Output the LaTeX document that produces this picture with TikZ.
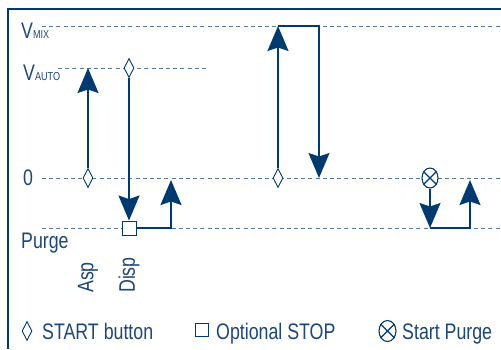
\documentclass[tikz,border=0pt]{standalone}
\usepackage{fontspec}
\setmainfont[FakeStretch=0.79]{Liberation Sans}
\usepackage{tikz}
\usetikzlibrary{arrows.meta,positioning,shapes.geometric}
\definecolor{navy}{HTML}{003A6E}
\definecolor{ink}{HTML}{1E4775}
\definecolor{levelblue}{HTML}{56789E}
\newcommand{\lbsize}{\fontsize{22.5}{25}\selectfont}
\newcommand{\subsize}{\fontsize{11.5}{12}\selectfont}
\tikzset{
  flow/.style={draw=navy,line width=1.7pt,-{Stealth[length=25pt,width=21pt,inset=3.5pt]}},
  level/.style={draw=levelblue,line width=1pt,dash pattern=on 4pt off 3.2pt},
  startmark/.style={diamond,draw=navy,fill=white,line width=0.9pt,inner sep=0pt,minimum width=10pt,minimum height=19pt},
  stopmark/.style={rectangle,draw=navy,fill=white,line width=0.9pt,inner sep=0pt,minimum width=14pt,minimum height=14pt},
  purgemark/.style={ellipse,draw=navy,fill=white,line width=1.1pt,inner sep=0pt,minimum width=16pt,minimum height=20pt},
  lbl/.style={text=ink,inner sep=0pt,font=\lbsize}
}
\begin{document}
\begin{tikzpicture}[x=1pt,y=-1pt]
  \useasboundingbox (0,0) rectangle (501,349);
  \draw[navy,line width=1.5pt] (8,349) -- (8,9) -- (501,9);

  \node[lbl,anchor=base west] (vmix) at (21,38) {V{\subsize MIX}};
  \node[lbl,anchor=base west] (vauto) at (23,80) {V{\subsize AUTO}};
  \node[lbl,anchor=base west] (zero) at (23,185) {0};
  \node[lbl,anchor=base west] (purge) at (21,248) {Purge};
  \node[lbl,rotate=90,anchor=west] (asp) at (88,293) {Asp};
  \node[lbl,rotate=90,anchor=west] (disp) at (129,293) {Disp};

  \draw[level] (42,26) -- (501,26);
  \draw[level] (58,68) -- (208,68);
  \draw[level] (42,178) -- (501,178);
  \draw[level] (42,228) -- (501,228);

  \coordinate (aspTop) at (88,68);
  \coordinate (dispTurn) at (171,228);
  \coordinate (dispEnd) at (171,180);
  \coordinate (mixTop) at (278,26);
  \coordinate (mixTurn) at (319,26);
  \coordinate (mixEnd) at (319,178);
  \coordinate (purgeBot) at (430,228);
  \coordinate (purgeTurn) at (470,228);
  \coordinate (purgeEnd) at (470,180);

  \node[startmark] (aspStart) at (88,178) {};
  \node[stopmark] (dispStop) at (129,228) {};
  \node[startmark] (dispStart) at (129,68) {};
  \draw[flow] (aspStart.north) -- (aspTop);
  \draw[flow] (dispStart.south) -- (dispStop.north);
  \draw[flow] (dispStop.east) -- (dispTurn) -- (dispEnd);

  \node[startmark] (mixStart) at (278,178) {};
  \draw[flow] (mixStart.north) -- (mixTop);
  \draw[flow] (mixTop) -- (mixTurn) -- (mixEnd);

  \node[purgemark] (purgeStart) at (430,178) {};
  \draw[navy,line width=1.1pt] (purgeStart.45) -- (purgeStart.225) (purgeStart.135) -- (purgeStart.315);
  \draw[flow] (purgeStart.south) -- (purgeBot);
  \draw[flow] (purgeBot) -- (purgeTurn) -- (purgeEnd);

  \node[startmark] (keyStart) at (27,331) {};
  \node[lbl,anchor=base west] (keyStartText) at (42,339) {START button};
  \node[stopmark,minimum width=13pt,minimum height=13pt] (keyStop) at (201.5,330) {};
  \node[lbl,anchor=base west] (keyStopText) at (216,339) {Optional STOP};
  \node[purgemark,minimum width=17pt,minimum height=21pt] (keyPurge) at (387.5,331) {};
  \draw[navy,line width=1.1pt] (keyPurge.45) -- (keyPurge.225) (keyPurge.135) -- (keyPurge.315);
  \node[lbl,anchor=base west] (keyPurgeText) at (402,339) {Start Purge};
\end{tikzpicture}
\end{document}
